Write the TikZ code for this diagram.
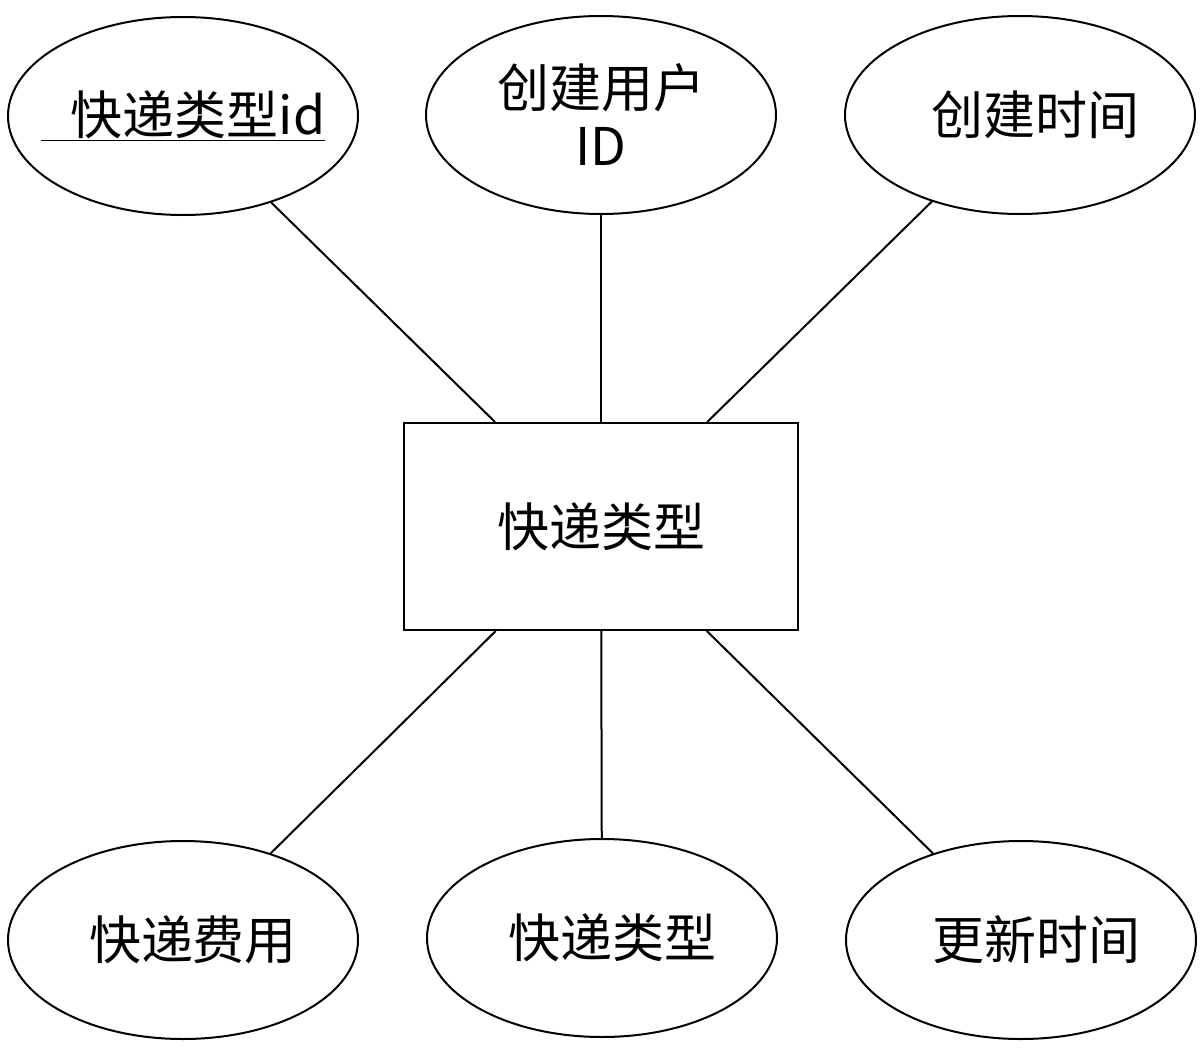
\documentclass[tikz,border=0pt]{standalone}
\usepackage{fontspec}
\setmainfont{Liberation Serif}
\newfontfamily\cjk{Noto Sans CJK SC}
\usetikzlibrary{shapes.geometric}
\begin{document}
\begin{tikzpicture}[x=1pt,y=-1pt,
  attr/.style={draw,line width=2pt,ellipse,minimum width=350pt,minimum height=198pt,inner sep=0pt,font=\cjk\fontsize{52}{58}\selectfont,align=center},
  ent/.style={draw,line width=2pt,rectangle,minimum width=394pt,minimum height=207pt,font=\cjk\fontsize{52}{58}\selectfont},
  link/.style={line width=2pt}]
\useasboundingbox (0,0) rectangle (1200,1052);
\node[ent] (e) at (601,526.5) {快递类型};
\node[attr] (a1) at (183,116) {\makebox[0pt][c]{\underline{\hspace{30pt}快递类型id}}};
\node[attr] (a2) at (601,115) {创建用户\\ID};
\node[attr] (a3) at (1020,115) {\hspace{30pt}创建时间};
\node[attr] (b1) at (183,940) {\hspace{20pt}快递费用};
\node[attr] (b2) at (602,938) {\hspace{20pt}快递类型};
\node[attr] (b3) at (1021,940) {\hspace{30pt}更新时间};
\foreach \n in {a1,a2,a3,b1,b2,b3} \draw[link] (\n) -- (e);
\end{tikzpicture}
\end{document}
